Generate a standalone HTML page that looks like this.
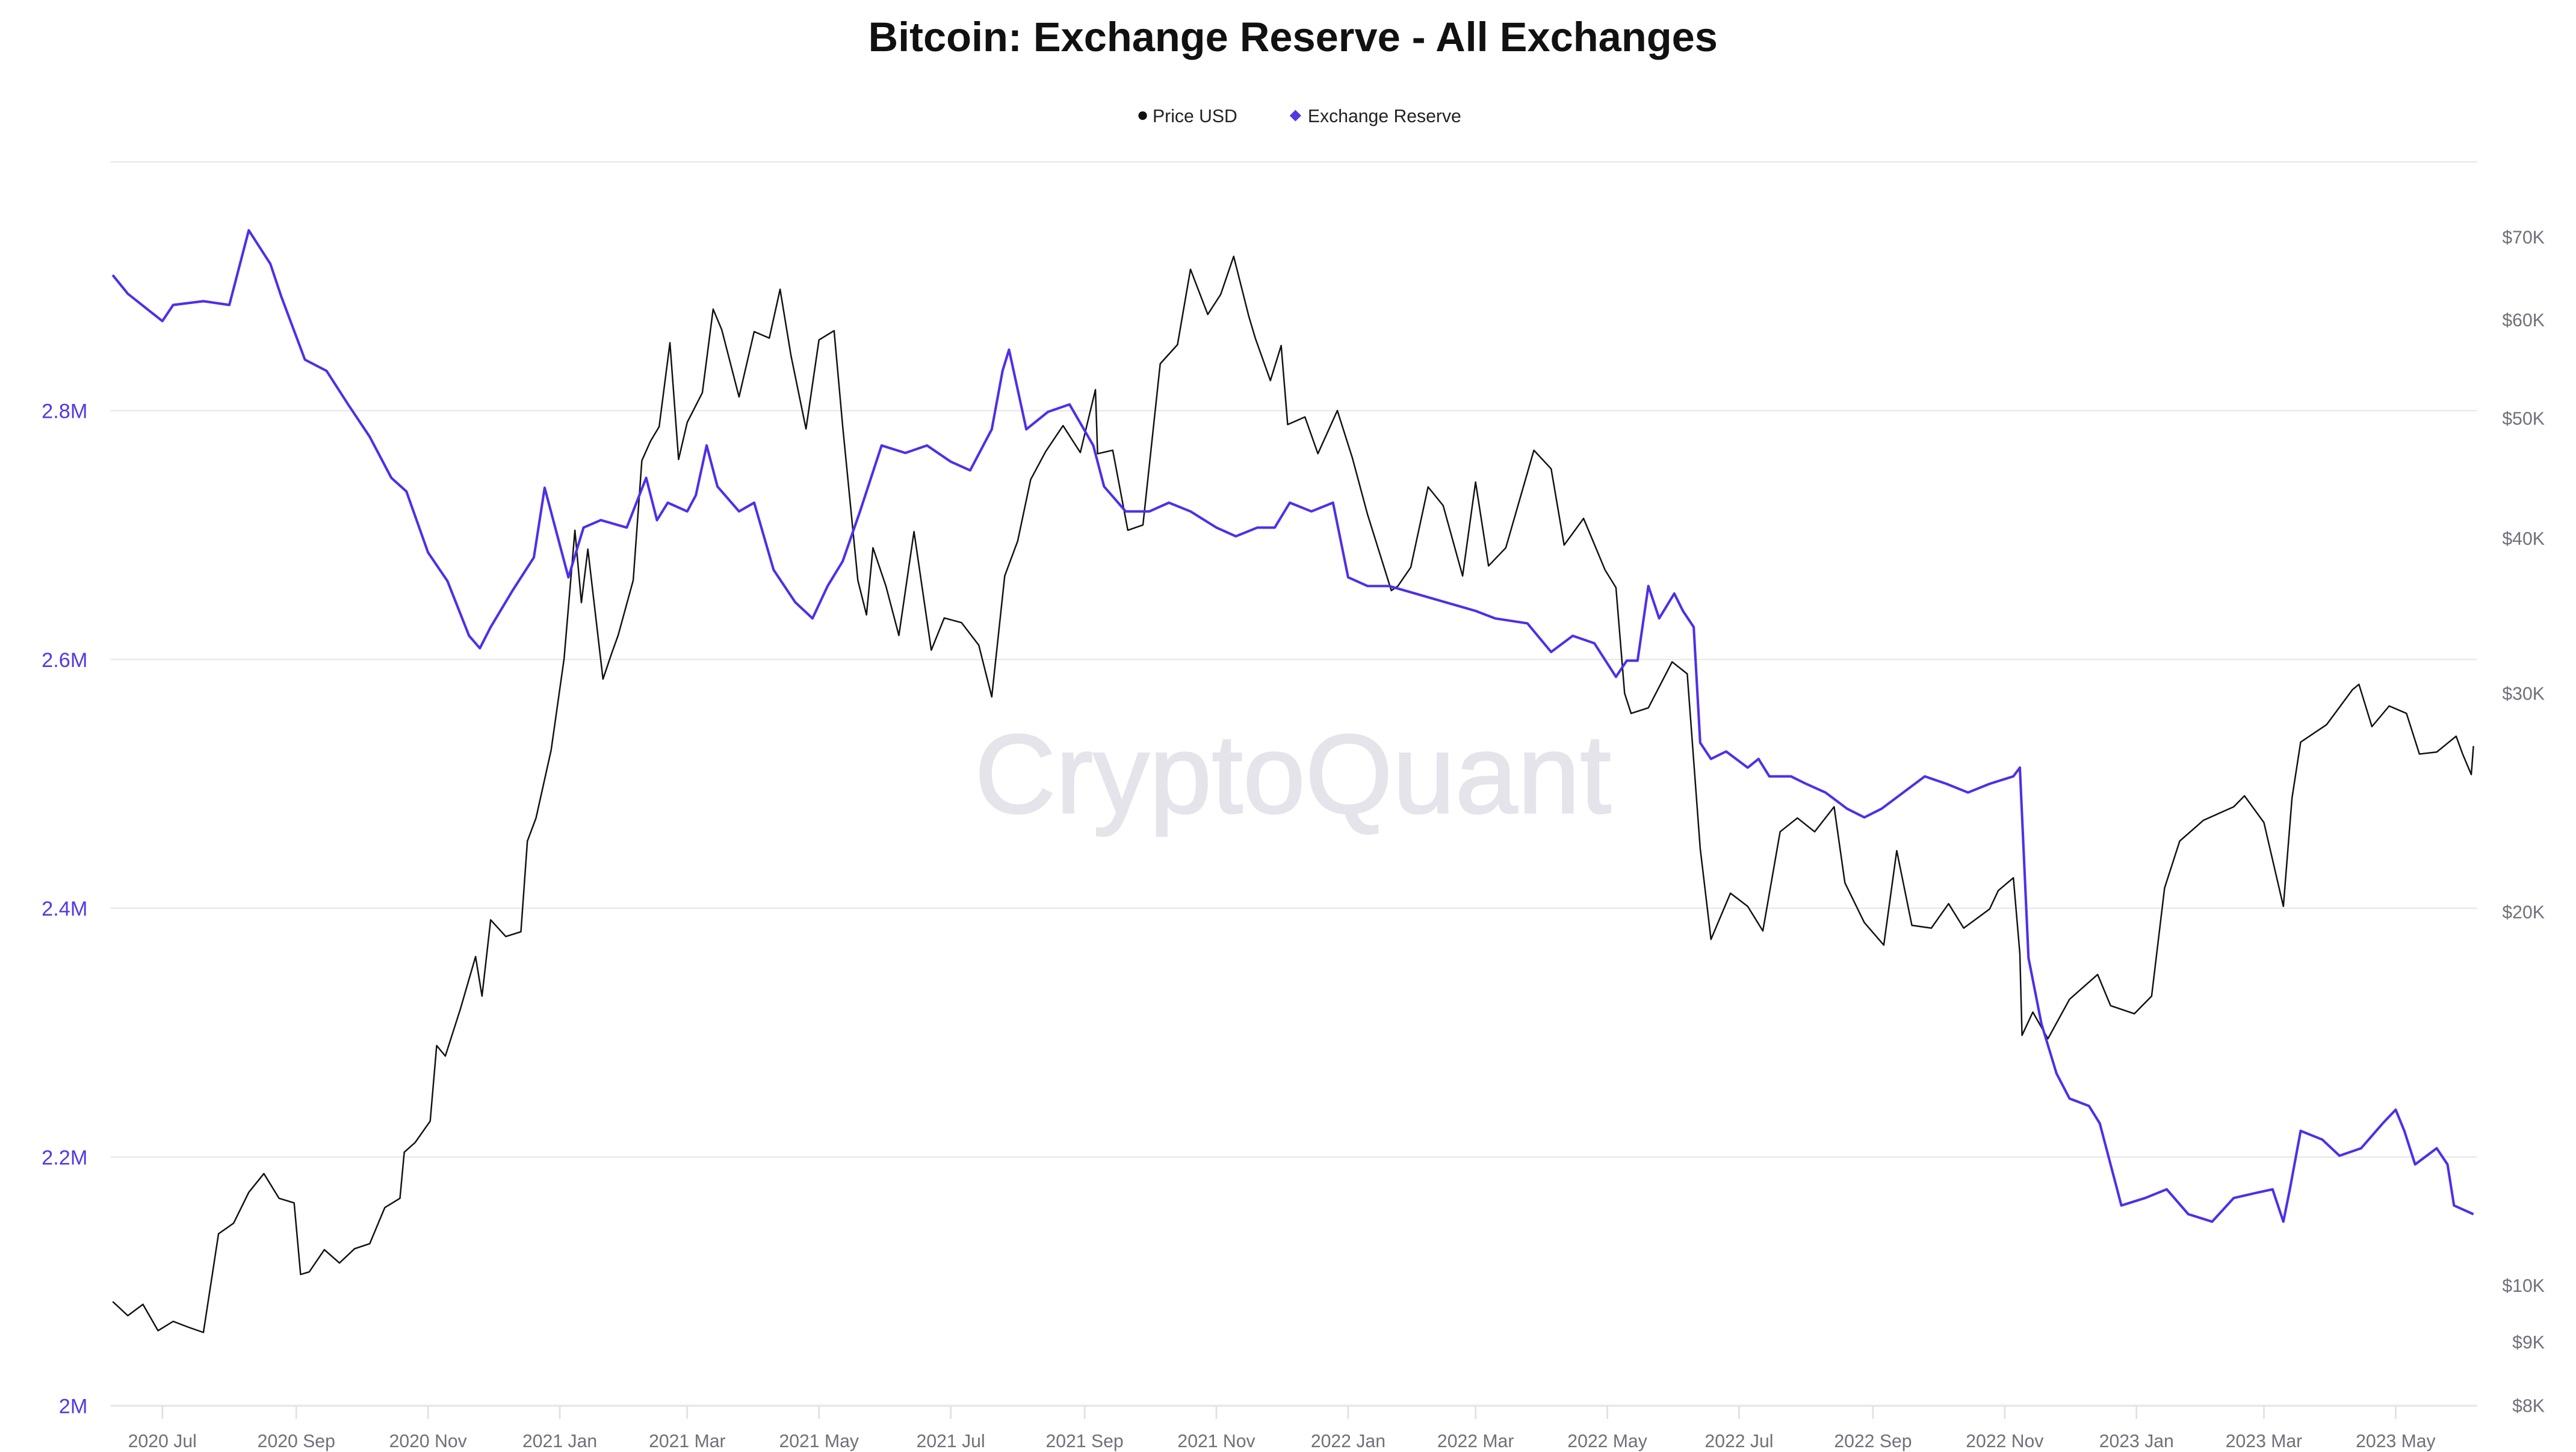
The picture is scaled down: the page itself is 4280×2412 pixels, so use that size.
<!DOCTYPE html>
<html><head><meta charset="utf-8"><style>
html,body{margin:0;padding:0;background:#fff;}
svg{display:block;font-family:"Liberation Sans",Arial,sans-serif;}
</style></head><body>
<svg id="chart" width="4280" height="2412" viewBox="0 0 1560 879" preserveAspectRatio="none" xmlns="http://www.w3.org/2000/svg">
<rect x="0" y="0" width="1560" height="879" fill="#fff"/>
<text x="783" y="31" text-anchor="middle" font-size="25" font-weight="bold" fill="#111">Bitcoin: Exchange Reserve - All Exchanges</text>
<g>
<g><circle cx="692" cy="70" r="2.6" fill="#111"/><text x="698" y="74" font-size="11" fill="#222">Price USD</text></g>
<g><path d="M784.5 66.5 L788 70 L784.5 73.5 L781 70 Z" fill="#5338e6"/><text x="792" y="74" font-size="11" fill="#222">Exchange Reserve</text></g>
</g>
<text x="783" y="492" text-anchor="middle" font-size="68" fill="#e4e4ea" stroke="#e4e4ea" stroke-width="1">CryptoQuant</text>
<g id="grid"></g><g id="axes"></g><g id="series"></g>
</svg>
<script>
const priceDates=["2020-06-08","2020-06-15","2020-06-22","2020-06-29","2020-07-06","2020-07-13","2020-07-20","2020-07-27","2020-08-03","2020-08-10","2020-08-17","2020-08-24","2020-08-31","2020-09-03","2020-09-07","2020-09-14","2020-09-21","2020-09-28","2020-10-05","2020-10-12","2020-10-19","2020-10-21","2020-10-26","2020-11-02","2020-11-05","2020-11-09","2020-11-16","2020-11-23","2020-11-26","2020-11-30","2020-12-07","2020-12-14","2020-12-17","2020-12-21","2020-12-28","2021-01-03","2021-01-08","2021-01-11","2021-01-14","2021-01-21","2021-01-25","2021-01-28","2021-02-04","2021-02-08","2021-02-12","2021-02-16","2021-02-21","2021-02-25","2021-03-01","2021-03-08","2021-03-13","2021-03-17","2021-03-25","2021-04-01","2021-04-08","2021-04-13","2021-04-18","2021-04-25","2021-05-01","2021-05-08","2021-05-12","2021-05-19","2021-05-23","2021-05-26","2021-06-01","2021-06-07","2021-06-14","2021-06-22","2021-06-28","2021-07-06","2021-07-14","2021-07-20","2021-07-26","2021-08-01","2021-08-07","2021-08-14","2021-08-22","2021-08-30","2021-09-06","2021-09-07","2021-09-14","2021-09-21","2021-09-28","2021-10-06","2021-10-14","2021-10-20","2021-10-28","2021-11-03","2021-11-09","2021-11-16","2021-11-19","2021-11-26","2021-12-01","2021-12-04","2021-12-12","2021-12-18","2021-12-27","2022-01-03","2022-01-10","2022-01-21","2022-01-24","2022-01-30","2022-02-07","2022-02-14","2022-02-23","2022-03-01","2022-03-07","2022-03-15","2022-03-28","2022-04-05","2022-04-11","2022-04-20","2022-04-30","2022-05-05","2022-05-09","2022-05-12","2022-05-20","2022-05-31","2022-06-07","2022-06-13","2022-06-18","2022-06-27","2022-07-05","2022-07-12","2022-07-20","2022-07-28","2022-08-05","2022-08-14","2022-08-19","2022-08-28","2022-09-06","2022-09-12","2022-09-19","2022-09-28","2022-10-06","2022-10-13","2022-10-25","2022-10-29","2022-11-05","2022-11-08","2022-11-09","2022-11-14","2022-11-21","2022-12-01","2022-12-14","2022-12-20","2022-12-31","2023-01-08","2023-01-14","2023-01-21","2023-02-01","2023-02-15","2023-02-20","2023-03-01","2023-03-10","2023-03-14","2023-03-18","2023-03-30","2023-04-11","2023-04-14","2023-04-20","2023-04-28","2023-05-06","2023-05-12","2023-05-20","2023-05-29","2023-06-01","2023-06-05","2023-06-06"];
const priceValues=[9700,9450,9650,9190,9350,9250,9160,11000,11220,11880,12300,11750,11650,10200,10250,10680,10420,10700,10800,11550,11750,12800,13030,13560,15600,15300,16700,18400,17100,19700,19100,19270,22800,23800,27000,32000,40600,35500,39200,30800,32300,33400,37000,46200,47900,49200,57500,46300,49600,52400,61200,58900,52000,58700,58000,63500,56200,49000,57800,58800,49200,37000,34700,39300,36600,33400,40500,32500,34500,34200,32800,29800,37300,39800,44600,47000,49300,46900,52700,46800,47100,40600,41000,55300,57300,65900,60600,62900,67500,60400,58000,53600,57200,49400,50100,46800,50700,46400,41800,36300,36600,37900,44000,42500,37300,44400,38000,39300,47100,45500,39500,41500,37700,36500,30000,28900,29200,31800,31100,22500,19000,20700,20200,19300,23200,23800,23200,24300,21100,19600,18800,22400,19500,19400,20300,19400,20100,20800,21300,18500,15900,16600,15800,17000,17800,16800,16550,17100,20900,22800,23700,24300,24800,23600,20200,24700,27400,28300,30200,30500,28200,29300,28900,26800,26900,27700,26800,25800,27200];
const reserveDates=["2020-06-08","2020-06-15","2020-07-01","2020-07-06","2020-07-20","2020-08-01","2020-08-10","2020-08-20","2020-08-25","2020-09-05","2020-09-15","2020-09-25","2020-10-05","2020-10-15","2020-10-22","2020-11-01","2020-11-10","2020-11-20","2020-11-25","2020-11-30","2020-12-10","2020-12-20","2020-12-25","2021-01-05","2021-01-12","2021-01-20","2021-02-01","2021-02-10","2021-02-15","2021-02-20","2021-03-01","2021-03-05","2021-03-10","2021-03-15","2021-03-25","2021-04-01","2021-04-10","2021-04-20","2021-04-28","2021-05-05","2021-05-12","2021-05-20","2021-05-30","2021-06-10","2021-06-20","2021-07-01","2021-07-10","2021-07-20","2021-07-25","2021-07-28","2021-08-05","2021-08-15","2021-08-25","2021-09-05","2021-09-10","2021-09-20","2021-10-01","2021-10-10","2021-10-20","2021-11-01","2021-11-10","2021-11-20","2021-11-28","2021-12-05","2021-12-15","2021-12-25","2022-01-01","2022-01-10","2022-01-20","2022-02-01","2022-02-15","2022-03-01","2022-03-10","2022-03-25","2022-04-05","2022-04-15","2022-04-25","2022-05-05","2022-05-10","2022-05-15","2022-05-20","2022-05-25","2022-06-01","2022-06-05","2022-06-10","2022-06-13","2022-06-18","2022-06-25","2022-07-05","2022-07-10","2022-07-15","2022-07-25","2022-08-01","2022-08-10","2022-08-20","2022-08-28","2022-09-05","2022-09-15","2022-09-25","2022-10-05","2022-10-15","2022-10-25","2022-11-05","2022-11-08","2022-11-12","2022-11-18","2022-11-25","2022-12-01","2022-12-10","2022-12-15","2022-12-25","2023-01-05","2023-01-15","2023-01-25","2023-02-05","2023-02-15","2023-02-25","2023-03-05","2023-03-10","2023-03-13","2023-03-18","2023-03-28","2023-04-05","2023-04-15","2023-04-25","2023-05-01","2023-05-05","2023-05-10","2023-05-20","2023-05-25","2023-05-28","2023-06-06"];
const reserveValues=[2909,2894,2872,2885,2888,2885,2945,2918,2892,2841,2832,2805,2779,2746,2735,2686,2663,2619,2609,2626,2655,2682,2738,2666,2706,2712,2706,2746,2712,2726,2719,2732,2772,2739,2719,2726,2672,2646,2633,2659,2679,2719,2772,2766,2772,2759,2752,2785,2832,2849,2785,2799,2805,2772,2739,2719,2719,2726,2719,2706,2699,2706,2706,2726,2719,2726,2666,2659,2659,2653,2646,2639,2633,2629,2606,2619,2613,2586,2599,2599,2659,2633,2653,2639,2626,2533,2520,2526,2513,2520,2506,2506,2500,2493,2480,2473,2480,2493,2506,2500,2493,2500,2506,2513,2360,2307,2267,2247,2241,2227,2161,2167,2174,2154,2148,2167,2171,2174,2148,2174,2221,2214,2201,2207,2227,2238,2221,2194,2207,2194,2161,2154];
const leftTicks=[2000,2200,2400,2600,2800];
const leftTickLabels=["2M","2.2M","2.4M","2.6M","2.8M"];
const rightTicks=[8000,9000,10000,20000,30000,40000,50000,60000,70000];
const rightTickLabels=["$8K","$9K","$10K","$20K","$30K","$40K","$50K","$60K","$70K"];
const xTickDates=["2020-07-01","2020-09-01","2020-11-01","2021-01-01","2021-03-01","2021-05-01","2021-07-01","2021-09-01","2021-11-01","2022-01-01","2022-03-01","2022-05-01","2022-07-01","2022-09-01","2022-11-01","2023-01-01","2023-03-01","2023-05-01"];
const xTickLabels=["2020 Jul","2020 Sep","2020 Nov","2021 Jan","2021 Mar","2021 May","2021 Jul","2021 Sep","2021 Nov","2022 Jan","2022 Mar","2022 May","2022 Jul","2022 Sep","2022 Nov","2023 Jan","2023 Mar","2023 May"];

const NS="http://www.w3.org/2000/svg";
const L=67,R=1500,B=851,T=98;
const d0=Date.UTC(2021,0,1);
function xs(s){const p=s.split('-');return 339+(Date.UTC(+p[0],+p[1]-1,+p[2])-d0)/864e5*1.308;}
function yl(v){return B-(v-2000)/1000*(B-T);}
function yr(v){return 778-Math.log10(v/10000)*751;}
function mk(tag,attrs,parent){const e=document.createElementNS(NS,tag);for(const k in attrs)e.setAttribute(k,attrs[k]);parent.appendChild(e);return e;}
const grid=document.getElementById('grid'),axes=document.getElementById('axes'),series=document.getElementById('series');
[2000,2200,2400,2600,2800,3000].forEach(v=>{
  const ln=mk('line',{x1:L,x2:R,y1:yl(v),y2:yl(v),stroke:'#e6e6eb','stroke-width':v===2000?1.2:0.8},grid);
  
  
});
leftTicks.forEach((v,i)=>{
  const t=mk('text',{x:53,y:yl(v)+4.5,'text-anchor':'end','font-size':12.5,fill:'#5338e6'},axes);
  t.textContent=leftTickLabels[i];
  
  
});
rightTicks.forEach((v,i)=>{
  const t=mk('text',{x:1541,y:yr(v)+4,'text-anchor':'end','font-size':11,fill:'#70707a'},axes);
  t.textContent=rightTickLabels[i];
  
  
});
xTickDates.forEach((d,i)=>{
  const x=xs(d);
  const tk=mk('line',{x1:x,x2:x,y1:B,y2:B+8,stroke:'#e0e0e6','stroke-width':1},axes);
  
  
  const t=mk('text',{x:x,y:B+25,'text-anchor':'middle','font-size':11,fill:'#70707a'},axes);
  t.textContent=xTickLabels[i];
  
  
});
const pp=priceDates.map((d,i)=>xs(d).toFixed(2)+','+yr(priceValues[i]).toFixed(2)).join(' ');
const pl=mk('polyline',{points:pp,fill:'none',stroke:'#111','stroke-width':0.9,'stroke-linejoin':'round'},series);


const rp=reserveDates.map((d,i)=>xs(d).toFixed(2)+','+yl(reserveValues[i]).toFixed(2)).join(' ');
const rl=mk('polyline',{points:rp,fill:'none',stroke:'#4f2fe8','stroke-width':1.5,'stroke-linejoin':'round'},series);


</script>
</body></html>
